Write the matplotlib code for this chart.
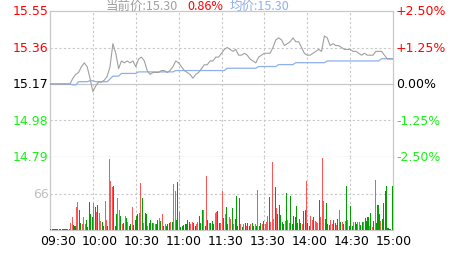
import matplotlib
matplotlib.use("Agg")
import matplotlib.pyplot as plt

# intraday quote, previous close 15.17, sampled every 2 minutes (0..240)
PREV_CLOSE = 15.17
STEP = 2
price = [
    15.17, 15.17, 15.17, 15.17, 15.17, 15.17, 15.17, 15.17, 15.20, 15.22,
    15.23, 15.26, 15.28, 15.26, 15.20, 15.13, 15.16, 15.18, 15.18, 15.19,
    15.21, 15.26, 15.38, 15.33, 15.25, 15.29, 15.28, 15.29, 15.28, 15.29,
    15.26, 15.30, 15.31, 15.29, 15.24, 15.22, 15.23, 15.23, 15.23, 15.24,
    15.24, 15.23, 15.24, 15.26, 15.29, 15.28, 15.26, 15.24, 15.23, 15.22,
    15.20, 15.22, 15.23, 15.25, 15.27, 15.27, 15.29, 15.29, 15.31, 15.31,
    15.33, 15.35, 15.36, 15.35, 15.34, 15.35, 15.32, 15.32, 15.33, 15.32,
    15.30, 15.29, 15.28, 15.31, 15.32, 15.33, 15.33, 15.33, 15.36, 15.40,
    15.41, 15.40, 15.37, 15.38, 15.39, 15.41, 15.39, 15.39, 15.36, 15.33,
    15.32, 15.32, 15.33, 15.34, 15.35, 15.34, 15.42, 15.41, 15.37, 15.38,
    15.37, 15.37, 15.36, 15.35, 15.35, 15.35, 15.34, 15.34, 15.33, 15.32,
    15.33, 15.32, 15.32, 15.32, 15.34, 15.34, 15.34, 15.32, 15.30, 15.30,
    15.30,
]
avg_price = [
    15.170, 15.170, 15.170, 15.170, 15.170, 15.170, 15.170, 15.170, 15.165, 15.165,
    15.182, 15.182, 15.182, 15.182, 15.187, 15.187, 15.182, 15.182, 15.182, 15.182,
    15.182, 15.196, 15.211, 15.211, 15.211, 15.225, 15.225, 15.225, 15.225, 15.225,
    15.225, 15.233, 15.233, 15.233, 15.233, 15.233, 15.233, 15.233, 15.233, 15.233,
    15.233, 15.233, 15.233, 15.233, 15.240, 15.240, 15.240, 15.240, 15.240, 15.240,
    15.240, 15.240, 15.240, 15.240, 15.240, 15.240, 15.240, 15.240, 15.240, 15.240,
    15.240, 15.240, 15.252, 15.252, 15.252, 15.252, 15.252, 15.252, 15.252, 15.252,
    15.252, 15.252, 15.252, 15.261, 15.261, 15.261, 15.261, 15.261, 15.261, 15.261,
    15.271, 15.271, 15.271, 15.271, 15.271, 15.271, 15.281, 15.281, 15.281, 15.281,
    15.281, 15.281, 15.281, 15.281, 15.281, 15.281, 15.281, 15.290, 15.290, 15.290,
    15.290, 15.290, 15.290, 15.290, 15.290, 15.290, 15.290, 15.290, 15.290, 15.290,
    15.290, 15.290, 15.290, 15.290, 15.290, 15.290, 15.302, 15.302, 15.302, 15.302,
    15.302,
]

# per-minute volume (240 bars) and direction (r = up, g = down)
volume = [
    1, 1, 1, 1, 1, 1, 1, 1, 1, 1, 1, 1, 1, 1,
    12, 24, 9, 8, 42, 50, 36, 12, 10, 24, 10, 18, 6, 50, 29, 24, 48, 42, 33, 45,
    30, 17, 15, 8, 52, 18,
    8, 128, 89, 77, 80, 8, 29, 57, 37, 25, 10, 12, 25, 21, 14, 8, 10, 42, 9, 18,
    25, 29, 30, 85, 57, 12, 30, 29, 8, 12, 18, 12, 12, 11, 10, 18, 21, 17, 29, 8, 11,
    8, 11, 12, 15, 15, 84, 71, 18, 86, 33, 6, 8, 9, 10, 10, 18, 15, 11, 14, 12,
    8, 10, 14, 26, 12, 37, 36, 8, 97, 18, 13, 12, 17, 11, 30, 33, 35, 12, 12,
    71, 21,
    29, 42, 10, 24, 20, 39, 11, 20, 61, 8, 57, 11, 6, 10, 12, 8, 12, 8, 11, 12,
    8, 11, 8, 73, 8, 12, 10, 17, 11, 14, 26, 60, 14, 123, 20, 77, 39, 29, 46, 27,
    14, 11, 17, 67, 18, 12, 61, 10, 26, 24, 43, 12, 20, 12, 10, 35, 36, 88, 12, 8,
    26, 18, 24, 17, 14, 12, 55, 23, 131, 52, 20, 48, 11, 9, 18, 10, 18, 12, 9, 20,
    37, 15, 14, 11, 17, 80, 18, 8, 43, 8, 15, 14, 10, 15, 15, 9, 14, 15, 21, 17,
    24, 8, 30, 6, 17, 91, 12, 46, 29, 17, 20, 48, 71, 79, 4, 1, 1, 79,
]
vol_dir = (
    "gggggggggggggg"
    "rrggrrggrrrgggggrgrgrrggrr"
    "grrrgggrrgrgrgrggrggggrrgrggrgggrrggrgrgr"
    "gggrgrrggrgggggggrrggrrgggrgrgrgggrrggr"
    "rg"
    "rggrrgrggggrgrgrggrggrgrggrgrrrgrrrgrggg"
    "ggrgrrggggggggrggrggrrgrrrgrrrggggrrggrg"
    "rgrgrgrgggrggrrggrgggrgrgrgggrgggggggg"
)
assert len(volume) == len(vol_dir) == 240

PRICE_TICKS = [15.55, 15.36, 15.17, 14.98, 14.79]
PCT_LABELS = ["+2.50%", "+1.25%", "0.00%", "-1.25%", "-2.50%"]
VOL_TICK = 66
VOL_MAX = 132
TIMES = ["09:30", "10:00", "10:30", "11:00", "11:30", "13:30", "14:00", "14:30", "15:00"]

RED = "#ff0000"
LIME = "#19f019"
GRID = "#c8c8c8"
TXT_COL = {1: RED, 0: RED, 2: "black", 3: LIME, 4: LIME}

W, H = 463, 255
L, R, T, M, B = 50, 393, 12, 158, 231
fig = plt.figure(figsize=(W / 100, H / 100), dpi=100)
ax = fig.add_axes([L / W, 1 - M / H, (R - L) / W, (M - T) / H])
axv = fig.add_axes([L / W, 1 - B / H, (R - L) / W, (B - M) / H])

for a in (ax, axv):
    a.set_xlim(0, 240)
    for s in a.spines.values():
        s.set_visible(False)
    a.set_xticks([])
    a.set_yticks([])
    for m in range(0, 241, 30):
        solid = m in (0, 240)
        a.axvline(m, color=GRID, lw=0.9 if solid else 0.8,
                  ls="-" if solid else (0, (2, 2)), zorder=0, clip_on=False)
ax.set_ylim(PRICE_TICKS[-1], PRICE_TICKS[0])
axv.set_ylim(0, VOL_MAX)

for k, p in enumerate(PRICE_TICKS):
    solid = k % 2 == 0
    ax.axhline(p, color=GRID, lw=0.9 if solid else 0.8,
               ls="-" if solid else (0, (2, 2)), zorder=0, clip_on=False)
    ax.text(-1.5 / (R - L), p, f"{p:.2f}", transform=ax.get_yaxis_transform(),
            ha="right", va="center", fontsize=9, color=TXT_COL[k])
    ax.text(1 + 3 / (R - L), p, PCT_LABELS[k], transform=ax.get_yaxis_transform(),
            ha="left", va="center", fontsize=9, color=TXT_COL[k])
axv.axhline(VOL_TICK, color=GRID, lw=0.8, ls=(0, (2, 2)), zorder=0)
axv.axhline(0, color=GRID, lw=0.9, zorder=0, clip_on=False)
axv.text(-1.5 / (R - L), VOL_TICK, str(VOL_TICK), transform=axv.get_yaxis_transform(),
         ha="right", va="center", fontsize=9, color="#c0c0c0")

# price and average lines
xs = [i * STEP for i in range(len(price))]
ax.plot(xs, price, color="#a0a0a0", lw=0.8, zorder=3)
ax.plot(xs, avg_price, color="#8fb0ec", lw=0.9, zorder=2)

# volume bars, crisp 1px columns
bar_x = [i + 0.5 for i in range(len(volume))]
bar_c = ["#ff5555" if d == "r" else "#009e00" for d in vol_dir]
axv.bar(bar_x, volume, width=0.72, color=bar_c, antialiased=False, zorder=3)

# time labels
for k, t in enumerate(TIMES):
    axv.text(5.5 + 29.35 * k, -4 / (B - M), t, transform=axv.get_xaxis_transform(),
             ha="center", va="top", fontsize=9, color="black")

# header line
cjk = ["Noto Sans CJK SC", "DejaVu Sans"]
last = price[-1]
chg = (last - PREV_CLOSE) / PREV_CLOSE * 100
fig.text(106 / W, 1 - 9.5 / H, f"当前价:{last:.2f}", family=cjk, fontsize=9,
         color="#a0a0a0", va="baseline")
fig.text(187 / W, 1 - 9.5 / H, f"{chg:.2f}%", family=cjk, fontsize=9,
         color=RED, va="baseline")
fig.text(230 / W, 1 - 9.5 / H, f"均价:{avg_price[-1]:.2f}", family=cjk, fontsize=9,
         color="#8fb0ec", va="baseline")

fig.savefig("out.png", dpi=100)
